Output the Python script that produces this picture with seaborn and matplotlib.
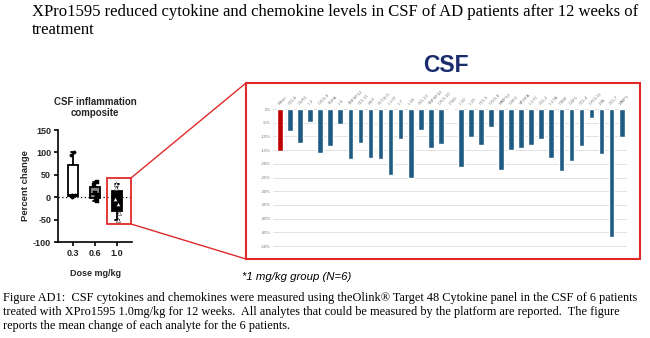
import numpy as np
import pandas as pd
import matplotlib
matplotlib.use("Agg")
import matplotlib.pyplot as plt
from matplotlib.lines import Line2D
from matplotlib.patches import Rectangle
import seaborn as sns

# ---------------- data ----------------
doses = ["0.3", "0.6", "1.0"]
dose_03 = [0, 2, 4, 6, 95, 100]
dose_06 = [-8, -4, 5, 10, 28, 35]
dose_10 = [-52, -35, -15, -5, 20, 30]

analytes = ["Mean", "CCL8", "OLR1", "IL2", "CXCL9", "TGFA", "IL6", "TNFSF12",
            "CCL11", "HGF", "FLT3LG", "IL17F", "IL7", "IL18", "CCL13", "TNFSF10",
            "CXCL10", "IFNG", "IL10", "IL15", "CCL3", "CXCL8", "MMP12", "CSF2",
            "VEGFA", "IL17C", "CCL2", "IL17A", "OSM", "CSF1", "CCL4", "CXCL11",
            "LTA", "CCL7", "MMP1"]
changes = [-15.2, -7.9, -12.3, -4.7, -16.2, -13.5, -5.5, -18.2,
           -12.5, -17.8, -18.2, -24.0, -11.0, -25.2, -7.7, -14.3,
           -12.8, 0.0, -21.2, -10.2, -13.3, -6.6, -22.1, -15.0,
           -14.2, -13.0, -11.0, -17.9, -22.5, -19.1, -13.5, -3.3,
           -16.4, -46.6, -10.2]
yticks_right = [0, -5, -10, -15, -20, -25, -30, -35, -40, -45, -50]
yticks_left = [150, 100, 50, 0, -50, -100]

title_lines = ["XPro1595 reduced cytokine and chemokine levels in CSF of AD patients after 12 weeks of",
               "treatment"]
caption = [
    "Figure AD1:  CSF cytokines and chemokines were measured using theOlink\u00ae Target 48 Cytokine panel in the CSF of 6 patients",
    "treated with XPro1595 1.0mg/kg for 12 weeks.  All analytes that could be measured by the platform are reported.  The figure",
    "reports the mean change of each analyte for the 6 patients.",
]

# ---------------- figure ----------------
sns.set_theme(style="white")
plt.rcParams["font.family"] = ["Liberation Sans", "DejaVu Sans"]

W, H = 650, 338
fig = plt.figure(figsize=(W / 100, H / 100), dpi=100)
fig.patch.set_facecolor("white")

def fx(px):
    return px / W

def fy(py):
    return 1 - py / H

serif = ["Liberation Serif", "DejaVu Serif"]
for i, line in enumerate(title_lines):
    fig.text(fx(32), fy(12 + 17.5 * i), line, family=serif, fontsize=12,
             va="center", ha="left", color="black")
for i, line in enumerate(caption):
    fig.text(fx(3), fy(298 + 14 * i), line, family=serif,
             fontsize=8.8, va="center", ha="left", color="black")

# ---------------- left box plot ----------------
df = pd.DataFrame({
    "dose": ["0.3"] * len(dose_03) + ["0.6"] * len(dose_06) + ["1.0"] * len(dose_10),
    "pct": dose_03 + dose_06 + dose_10,
})
axL = fig.add_axes([fx(58), fy(242), fx(132) - fx(58), fy(130) - fy(242)])
sns.boxplot(data=df, x="dose", y="pct", order=doses, hue="dose", hue_order=doses,
            palette={"0.3": "white", "0.6": "#858585", "1.0": "black"},
            whis=(0, 100), width=0.42, linecolor="black", linewidth=1.3,
            showfliers=False, legend=False, ax=axL)
markers = {"0.3": ("o", "black", 2.4), "0.6": ("s", "black", 2.4), "1.0": ("^", "white", 3.0)}
for d in doses:
    m, c, sz = markers[d]
    sns.stripplot(data=df[df["dose"] == d], x="dose", y="pct", order=doses,
                  marker=m, color=c, size=sz, jitter=0.12, edgecolor="black",
                  linewidth=0.3, ax=axL)
axL.axhline(0, ls=(0, (1, 2)), color="black", lw=0.9, zorder=0)
axL.set_xlim(-0.68, 2.68)
axL.set_ylim(-100, 150)
axL.set_yticks(yticks_left)
axL.set_yticklabels([str(v) for v in yticks_left], fontsize=6.5, fontweight="bold")
axL.set_xticks(range(3))
axL.set_xticklabels(doses, fontsize=6.5, fontweight="bold")
for s in ["top", "right"]:
    axL.spines[s].set_visible(False)
for s in ["left", "bottom"]:
    axL.spines[s].set_color("black")
    axL.spines[s].set_linewidth(1.2)
axL.tick_params(axis="both", direction="out", length=3, width=1.2, color="black", pad=2)
axL.tick_params(axis="both", which="both", left=True, bottom=True)
axL.set_xlabel("Dose mg/kg", fontsize=6.5, fontweight="bold", labelpad=8)
axL.set_ylabel("Percent change", fontsize=6.8, fontweight="bold", labelpad=2)
axL.set_title("CSF inflammation\ncomposite", fontsize=7, fontweight="bold", pad=10,
              linespacing=1.15)

# ---------------- right bar chart ----------------
axR = fig.add_axes([fx(273), fy(247.4), fx(627) - fx(273), fy(108.2) - fy(247.4)])
pal = {a: ("#c00000" if a == "Mean" else "#1f5b82") for a in analytes}
dfr = pd.DataFrame({"analyte": analytes, "change": changes})
sns.barplot(data=dfr, x="analyte", y="change", order=analytes, hue="analyte",
            hue_order=analytes, palette=pal, width=0.57, legend=False,
            saturation=1, ax=axR)
axR.set_xlim(-0.7, 34.53)
axR.set_ylim(-50.5, 0.3)
axR.set_yticks(yticks_right)
axR.set_yticklabels([f"{v}%" for v in yticks_right], fontsize=3.2, color="#777777")
axR.yaxis.grid(True, color="#dddddd", lw=0.6)
axR.set_axisbelow(True)
axR.xaxis.tick_top()
axR.set_xticks(range(len(analytes)))
axR.set_xticklabels(analytes, rotation=45, ha="left", va="bottom", fontsize=3.2,
                    color="#777777", rotation_mode="anchor")
axR.tick_params(axis="both", length=0, pad=1.5)
axR.set_xlabel("")
axR.set_ylabel("")
for s in axR.spines.values():
    s.set_visible(False)

fig.text(fx(446), fy(66), "CSF", fontsize=16.5, fontweight="bold", color="#1b2c6e",
         ha="center", va="center", family=["Liberation Sans", "DejaVu Sans"])
fig.text(fx(297), fy(277), "*1 mg/kg group (N=6)", fontsize=8.2, style="italic",
         color="black", ha="center", va="center",
         family=["Liberation Sans", "DejaVu Sans"])

# ---------------- zoom highlight ----------------
red = "#e02a2a"
fig.add_artist(Rectangle((fx(107), fy(224)), fx(131) - fx(107), fy(178) - fy(224),
                         transform=fig.transFigure, fill=False, ec=red, lw=1.3))
fig.add_artist(Rectangle((fx(246), fy(259)), fx(640) - fx(246), fy(83) - fy(259),
                         transform=fig.transFigure, fill=False, ec=red, lw=1.5))
fig.add_artist(Line2D([fx(131), fx(246)], [fy(178), fy(83)], transform=fig.transFigure,
                      color=red, lw=1.0))
fig.add_artist(Line2D([fx(131), fx(246)], [fy(224), fy(259)], transform=fig.transFigure,
                      color=red, lw=1.0))

fig.savefig("out.png", dpi=100, facecolor="white")
